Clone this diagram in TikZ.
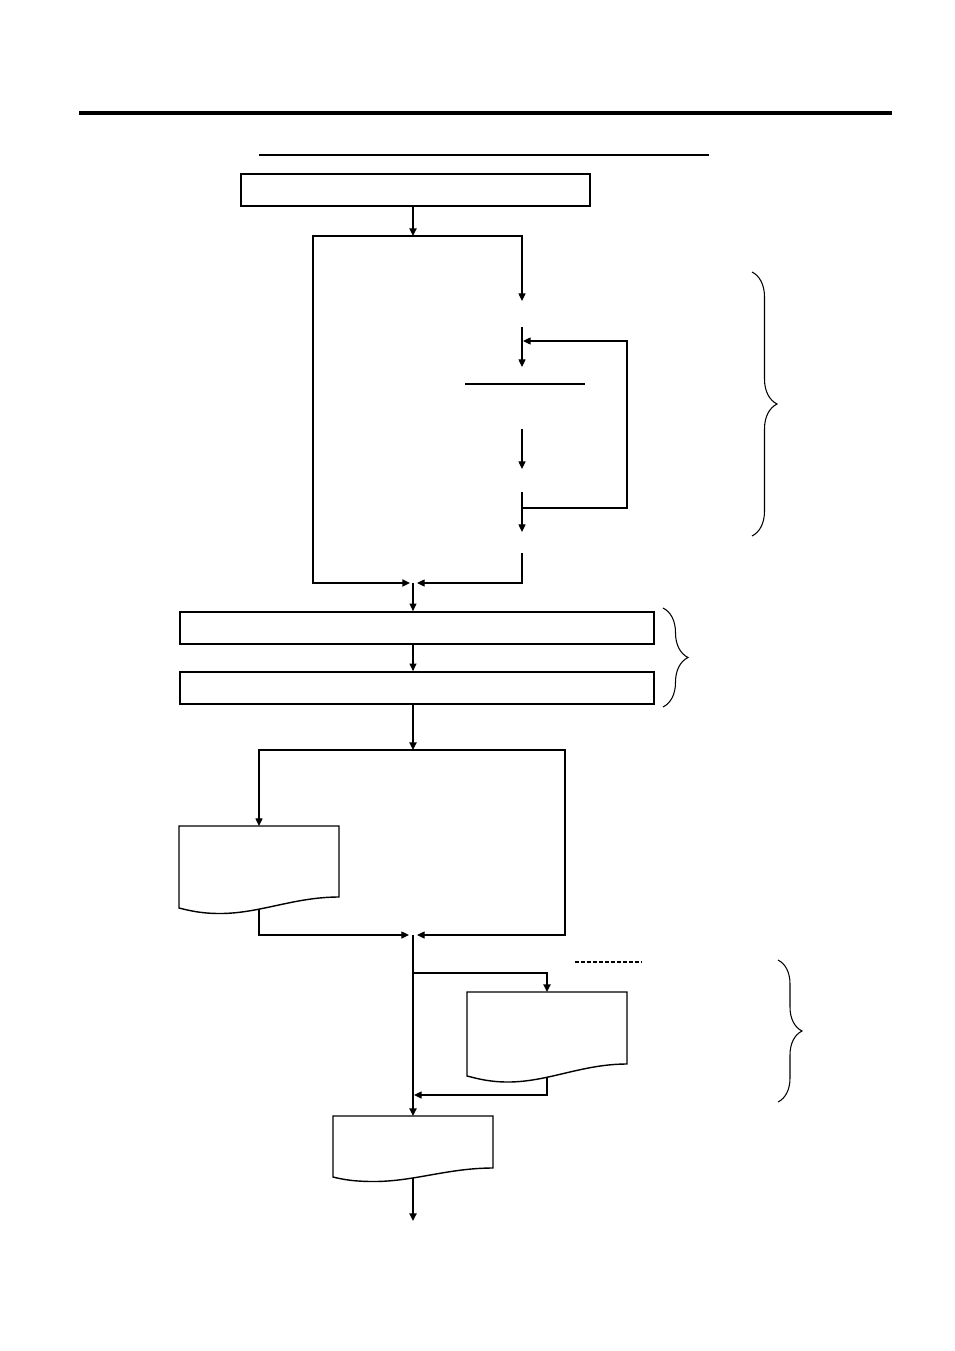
\documentclass[tikz,border=0pt]{standalone}
\usetikzlibrary{arrows.meta,calc,decorations.pathreplacing}

\tikzset{
  box/.style={draw, line width=1.5pt, inner sep=0pt},
  size/.style 2 args={minimum width=#1*0.03cm, minimum height=#2*0.03cm},
  hole/.style={inner sep=0pt, outer sep=0pt, size={120}{#1}},
  body/.style 2 args={inner sep=0pt, outer sep=0pt, size={#1}{#2}},
  flow/.style={line width=0.9pt, -{Triangle[length=6.5pt,width=6pt]}},
  trunk/.style={flow, line width=2.1pt},
  docline/.style={draw, fill=white, line width=1.2pt},
  curly/.style={decorate, decoration={brace, amplitude=#1}, line width=0.9pt}
}

% document symbol drawn over a node: #1 node, #2 drop of the left corner
\newcommand{\docshape}[2]{%
  \draw[docline] (#1.south east) -- (#1.north east) -- (#1.north west)
    -- ($(#1.south west)+(0,#2)$)
    .. controls +(12,3) and +(-18,0) .. ($(#1.south west)+(41,1.5*#2)$)
    .. controls +(40,0) and +(-45,0) .. (#1.south east) -- cycle;}

\begin{document}
\begin{tikzpicture}[x=0.03cm, y=-0.03cm]
  \useasboundingbox (0,0) rectangle (954,1351);

  % rules at the top
  \draw[line width=3.4pt] (79,113) -- (892,113);
  \draw[line width=0.9pt] (259,155) -- (709,155);

  % nodes
  \node[box, size={349}{32}] (head) at (415.5,190) {};
  \coordinate (split) at (413,236);
  \node[hole=26] (s1) at (522,314) {};
  \node[hole=62] (s2) at (522,398) {};
  \node[hole=23] (s3) at (522,480.5) {};
  \node[hole=21] (s4) at (522,542.5) {};
  \coordinate (fbout) at (522,508);
  \coordinate (fbin) at (523,341);
  \coordinate (m1) at (413,583);
  \node[box, size={474}{32}] (pass1) at (417,628) {};
  \node[box, size={474}{32}] (pass2) at (417,688) {};
  \coordinate (split2) at (413,750);
  \node[body={160}{71}] (rep1) at (259,861.5) {};
  \coordinate (m2) at (413,935);
  \coordinate (br) at (413,973);
  \node[body={160}{72}] (rep2) at (547,1028) {};
  \node[body={160}{52}] (rep3) at (413,1142) {};
  \coordinate (out) at (413,1221);

  % upper loop
  \draw[trunk] (head.south -| split) -- (split);
  \draw[flow] (split) -| (s1);
  \draw[flow, line width=1.5pt] (split) -- ++(-100,0) |- ($(m1)+(-3,0)$);
  \draw[flow] (s1) -- (s2);
  \draw[line width=0.9pt] (465,384) -- (585,384);
  \draw[flow] (s2) -- (s3);
  \draw[flow] (s3) -- (s4);
  \draw[flow] (fbout) -- ++(105,0) |- (fbin);
  \draw[flow] (s4) |- ($(m1)+(4,0)$);

  % the two bars
  \draw[flow] (m1) -- (m1 |- pass1.north);
  \draw[flow] (pass1.south -| m1) -- (pass2.north -| m1);
  \draw[trunk] (pass2.south -| m1) -- (split2);

  % lower part
  \draw[flow] (split2) -| (rep1);
  \draw[flow] (split2) -- ++(152,0) |- ($(m2)+(4,0)$);
  \draw[flow] (rep1) |- ($(m2)+(-4,0)$);
  \draw[trunk] (m2) -- (rep3);
  \draw[trunk] (br) -| (rep2);
  \draw[flow] (rep2) |- ($(br)+(1,122)$);
  \draw[trunk] (rep3) -- (out);
  \draw[line width=0.9pt, dash pattern=on 3.4pt off 1.7pt] (575,962) -- (641,962);

  \docshape{rep1}{11}
  \docshape{rep2}{12}
  \docshape{rep3}{9}

  % braces
  \draw[curly=0.75cm] (752,272) -- (752,536);
  \draw[curly=0.75cm] (663,608) -- (663,707);
  \draw[curly=0.72cm] (778,960) -- (778,1102);
\end{tikzpicture}
\end{document}
